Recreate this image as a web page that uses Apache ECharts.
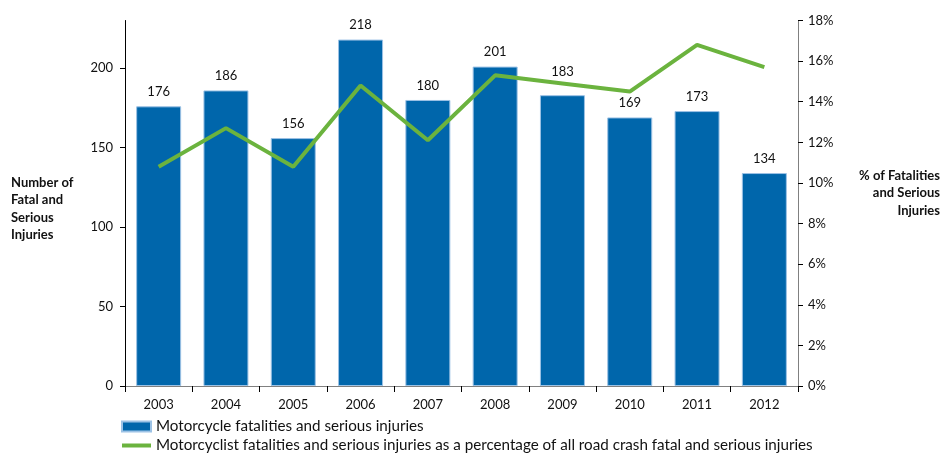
<!DOCTYPE html>
<html>
<head>
<meta charset="utf-8">
<script src="https://cdn.jsdelivr.net/npm/echarts@6/dist/echarts.min.js"></script>
<style>html,body{margin:0;padding:0;background:#fff}#c{width:941px;height:454px}</style>
</head>
<body>
<div id="c"></div>
<script>
const years = ['2003','2004','2005','2006','2007','2008','2009','2010','2011','2012'];
const injuries = [176,186,156,218,180,201,183,169,173,134];
const percentages = [10.8,12.7,10.8,14.8,12.1,15.3,14.9,14.5,16.8,15.7];
const leftTicks = [0,50,100,150,200];
const barName = 'Motorcycle fatalities and serious injuries';
const lineName = 'Motorcyclist fatalities and serious injuries as a percentage of all road crash fatal and serious injuries';

const FONT = 'Lato, "Open Sans", sans-serif';
const barData = injuries.map((v, i) => i === 6 ? {value: v, label: {distance: 17}} : v);
const chart = echarts.init(document.getElementById('c'));
chart.setOption({
  animation: false,
  textStyle: {fontFamily: FONT},
  grid: {left: 125, right: 143, top: 20.5, bottom: 68},
  legend: {
    orient: 'vertical', left: 120, top: 419, padding: 0, height: 80, itemWidth: 29, itemHeight: 10, itemGap: 4,
    textStyle: {fontSize: 15.2, color: '#111', fontFamily: FONT, lineHeight: 15},
    data: [
      {name: barName, icon: 'rect'},
      {name: lineName, itemStyle: {opacity: 0}, lineStyle: {width: 4, color: '#6BB33E'}}
    ]
  },
  xAxis: {
    type: 'category', data: years,
    axisLine: {lineStyle: {color: '#808080', width: 1}},
    axisTick: {show: true, length: 6, lineStyle: {color: '#000'}},
    axisLabel: {color: '#111', fontSize: 13, margin: 12}
  },
  yAxis: [{
    type: 'value', min: 0, max: 230, interval: 50,
    axisLine: {show: true, lineStyle: {color: '#000'}},
    axisTick: {show: true, length: 5, customValues: leftTicks, lineStyle: {color: '#000'}},
    axisLabel: {color: '#111', fontSize: 13, margin: 12, customValues: leftTicks},
    splitLine: {show: false}
  }, {
    type: 'value', min: 0, max: 18, interval: 2, position: 'right',
    axisLine: {show: true, lineStyle: {color: '#808080'}},
    axisTick: {show: true, length: 5, lineStyle: {color: '#000'}},
    axisLabel: {color: '#111', fontSize: 13, margin: 10, formatter: '{value}%'},
    splitLine: {show: false}
  }],
  series: [{
    name: barName, type: 'bar', data: barData, barWidth: 45,
    itemStyle: {color: '#0066AB', borderColor: '#9cc2e5', borderWidth: 1},
    label: {show: true, position: 'top', color: '#111', fontSize: 13, distance: 8}
  }, {
    name: lineName, type: 'line', yAxisIndex: 1, data: percentages,
    symbol: 'none', lineStyle: {color: '#6BB33E', width: 4}, itemStyle: {color: '#6BB33E'}
  }],
  graphic: [{
    type: 'text', x: 11, y: 174,
    style: {text: 'Number of\nFatal and\nSerious\nInjuries', font: 'bold 13px ' + FONT, fill: '#111', lineHeight: 17.5, align: 'left'}
  }, {
    type: 'text', x: 940, y: 167,
    style: {text: '% of Fatalities\nand Serious\nInjuries', font: 'bold 13px ' + FONT, fill: '#111', lineHeight: 17.5, align: 'right'}
  }]
});
</script>
</body>
</html>
